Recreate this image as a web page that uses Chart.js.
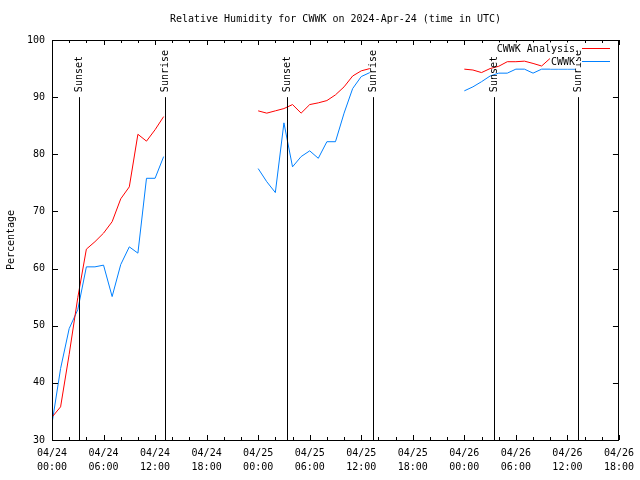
<!DOCTYPE html>
<html><head><meta charset="utf-8">
<script src="https://cdn.jsdelivr.net/npm/chart.js@4/dist/chart.umd.min.js"></script>
<style>html,body{margin:0;padding:0;background:#fff}#wrap{width:640px;height:480px}</style>
</head><body><div id="wrap"><canvas id="c" width="640" height="480"></canvas></div>
<script>
// hours since 2024-04-24 00:00 UTC (18 and 42 are gap markers)
const hours = [0,1,2,3,4,5,6,7,8,9,10,11,12,13,18,
  24,25,26,27,28,29,30,31,32,33,34,35,36,37,42,
  48,49,50,51,52,53,54,55,56,57,58,59,60,61];
const analysis = [34.0,35.8,45.0,54.9,63.4,64.7,66.2,68.2,72.2,74.3,83.5,82.3,84.3,86.6,null,
  87.6,87.2,87.6,88.0,88.7,87.2,88.7,89.0,89.4,90.4,91.8,93.7,94.6,95.0,null,
  94.9,94.75,94.3,95.0,95.4,96.2,96.2,96.3,95.9,95.45,96.8,96.5,96.2,95.9];
const observed = [32.9,42.5,49.5,52.8,60.3,60.3,60.6,55.1,60.7,63.8,62.7,75.8,75.8,79.6,null,
  77.5,75.2,73.3,85.5,77.8,79.6,80.6,79.3,82.2,82.2,87.2,91.5,93.6,94.3,null,
  91.1,91.8,92.7,93.7,94.2,94.2,94.9,94.9,94.2,94.9,94.9,94.9,94.9,94.9];
const sunTimes = [3.15,13.1,27.3,37.4,51.45,61.2];
const sunLabels = ['Sunset','Sunrise','Sunset','Sunrise','Sunset','Sunrise'];
const seriesNames = ['CWWK Analysis','CWWK'];
const seriesColors = ['#ff0000','#0080ff'];
const titleText = 'Relative Humidity for CWWK on 2024-Apr-24 (time in UTC)';
const yTitle = 'Percentage';

const FONT = '10px "DejaVu Sans Mono", "Liberation Mono", monospace';

function pts(vals){ return hours.map((h,i)=>({x:h,y:vals[i]})); }

const decor = {
  id:'decor',
  afterDatasetsDraw(chart){
    const ctx = chart.ctx, a = chart.chartArea;
    const xs = chart.scales.x, ys = chart.scales.y;
    ctx.save();
    ctx.strokeStyle = '#000'; ctx.lineWidth = 1;
    // border
    ctx.strokeRect(Math.round(a.left)+0.5, Math.round(a.top)+0.5, Math.round(a.right-a.left)-1, Math.round(a.bottom-a.top));
    // x ticks (major every 6h, minor every 2h), mirrored
    ctx.beginPath();
    for (let h = xs.min; h <= xs.max; h += 2) {
      const px = Math.round(xs.getPixelForValue(h)) + 0.5;
      const len = (h % 6 === 0) ? 5 : 3;
      ctx.moveTo(px, a.bottom); ctx.lineTo(px, a.bottom - len);
      ctx.moveTo(px, a.top); ctx.lineTo(px, a.top + len);
    }
    for (let v = ys.min; v <= ys.max; v += 10) {
      const py = Math.round(ys.getPixelForValue(v)) + 0.5;
      ctx.moveTo(a.left, py); ctx.lineTo(a.left + 6, py);
      ctx.moveTo(a.right, py); ctx.lineTo(a.right - 6, py);
    }
    ctx.stroke();
    // sunrise / sunset lines
    ctx.font = FONT; ctx.fillStyle = '#000';
    sunTimes.forEach((t,i)=>{
      const px = Math.round(xs.getPixelForValue(t)) + 0.5;
      const top = ys.getPixelForValue(90);
      ctx.beginPath(); ctx.moveTo(px, a.bottom); ctx.lineTo(px, top); ctx.stroke();
      ctx.save();
      ctx.translate(px, top - 5);
      ctx.rotate(-Math.PI/2);
      ctx.textAlign = 'left'; ctx.textBaseline = 'middle';
      ctx.fillText(sunLabels[i], 0, 0);
      ctx.restore();
    });
    // legend
    ctx.textAlign = 'right'; ctx.textBaseline = 'middle';
    seriesNames.forEach((n,i)=>{
      const y = 49 + i*13;
      const w = ctx.measureText(n).width;
      ctx.fillStyle = '#fff';
      ctx.fillRect(575 - w - 1, y - 6.5, w + 2, 13);
      ctx.fillStyle = '#000';
      ctx.fillText(n, 575, y);
      ctx.strokeStyle = seriesColors[i];
      ctx.beginPath(); ctx.moveTo(582, Math.round(y)-0.5); ctx.lineTo(610, Math.round(y)-0.5); ctx.stroke();
    });
    // title
    ctx.fillStyle = '#000';
    ctx.textAlign = 'center'; ctx.textBaseline = 'middle';
    ctx.fillText(titleText, (a.left + a.right)/2, 19);
    // y title
    ctx.save();
    ctx.translate(11, (a.top + a.bottom)/2);
    ctx.rotate(-Math.PI/2);
    ctx.fillText(yTitle, 0, 0);
    ctx.restore();
    ctx.restore();
  }
};

new Chart(document.getElementById('c'), {
  type:'line',
  data:{ datasets:[
    {label:seriesNames[0], data:pts(analysis), borderColor:seriesColors[0], borderWidth:1, pointRadius:0, spanGaps:false, tension:0, fill:false},
    {label:seriesNames[1], data:pts(observed), borderColor:seriesColors[1], borderWidth:1, pointRadius:0, spanGaps:false, tension:0, fill:false}
  ]},
  options:{
    responsive:false, animation:false, devicePixelRatio:1,
    layout:{padding:{left:0, top:40, right:20, bottom:0}},
    plugins:{legend:{display:false}, title:{display:false}, tooltip:{enabled:false}},
    scales:{
      x:{type:'linear', min:0, max:66,
        grid:{display:false, drawTicks:false}, border:{display:false},
        afterFit(s){ s.height = 40; },
        ticks:{stepSize:6, autoSkip:false, maxRotation:0, padding:6, color:'#000',
          font:{family:'"DejaVu Sans Mono", "Liberation Mono", monospace', size:10, lineHeight:1.4},
          callback(v){ const d = 24 + Math.floor(v/24); const hh = v % 24;
            return ['04/' + d, String(hh).padStart(2,'0') + ':00']; }}
      },
      y:{min:30, max:100,
        grid:{display:false, drawTicks:false}, border:{display:false},
        afterFit(s){ s.width = 52; },
        ticks:{stepSize:10, padding:7, color:'#000',
          font:{family:'"DejaVu Sans Mono", "Liberation Mono", monospace', size:10}}
      }
    }
  },
  plugins:[decor]
});
</script></body></html>
